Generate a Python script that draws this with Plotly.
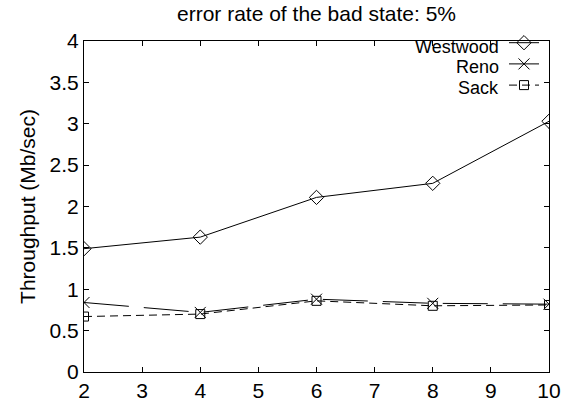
import plotly.graph_objects as go

x_vals = [2, 4, 6, 8, 10]
westwood = [1.49, 1.63, 2.11, 2.28, 3.03]
reno = [0.84, 0.72, 0.88, 0.83, 0.82]
sack = [0.67, 0.70, 0.86, 0.80, 0.81]

series_names = ["Westwood", "Reno", "Sack"]

x_ticks = [2, 3, 4, 5, 6, 7, 8, 9, 10]
y_ticks = [0, 0.5, 1, 1.5, 2, 2.5, 3, 3.5, 4]
y_tick_text = ["0", "0.5", "1", "1.5", "2", "2.5", "3", "3.5", "4"]

FONT = "Liberation Sans, Arial, sans-serif"

styles = [
    dict(line=dict(color="black", width=1),
         marker=dict(symbol="diamond-open", size=11, color="black", line=dict(width=1))),
    dict(line=dict(color="black", width=1, dash="45px,15px"),
         marker=dict(symbol="x-thin-open", size=11, color="black", line=dict(width=1, color="black"))),
    dict(line=dict(color="black", width=1, dash="8px,5px"),
         marker=dict(symbol="square-open", size=9, color="black", line=dict(width=1))),
]

fig = go.Figure()
for name, ys, st in zip(series_names, [westwood, reno, sack], styles):
    fig.add_trace(go.Scatter(x=x_vals, y=ys, name="", mode="lines+markers",
                             line=st["line"], marker=st["marker"], showlegend=True))

# legend labels drawn to the left of the symbol samples (gnuplot style)
legend_y = [0.983, 0.921, 0.859]
for name, yy in zip(series_names, legend_y):
    fig.add_annotation(text=name, xref="paper", yref="paper", x=0.895, y=yy,
                       xanchor="right", yanchor="middle", showarrow=False,
                       borderpad=0, font=dict(size=18))

fig.update_layout(
    width=563, height=404,
    margin=dict(l=84, r=14, t=41, b=32, autoexpand=False),
    paper_bgcolor="white", plot_bgcolor="white",
    font=dict(family=FONT, color="black", size=21),
    title=dict(text="error rate of the bad state: 5%", x=0.5, xanchor="center",
               xref="paper", y=0.985, yanchor="top", font=dict(size=21)),
    showlegend=True,
    legend=dict(x=1.0, y=1.042, xanchor="right", yanchor="top", bgcolor="rgba(0,0,0,0)",
                font=dict(size=14), tracegroupgap=0, itemwidth=30),
    xaxis=dict(range=[2, 10], tickvals=x_ticks, ticktext=[str(t) for t in x_ticks],
               ticks="inside", ticklen=5, tickcolor="black", showline=True, linecolor="black",
               linewidth=1, mirror="ticks", showgrid=False, zeroline=False, automargin=False,
               tickfont=dict(size=21)),
    yaxis=dict(range=[0, 4], tickvals=y_ticks, ticktext=y_tick_text,
               ticks="inside", ticklen=5, tickcolor="black", showline=True, linecolor="black",
               linewidth=1, mirror="ticks", showgrid=False, zeroline=False, automargin=False,
               tickfont=dict(size=21),
               title=dict(text="Throughput (Mb/sec)", font=dict(size=21), standoff=8)),
)

fig.write_html("out.html", config={"displayModeBar": False},
               post_script="document.body.style.margin='0';")
